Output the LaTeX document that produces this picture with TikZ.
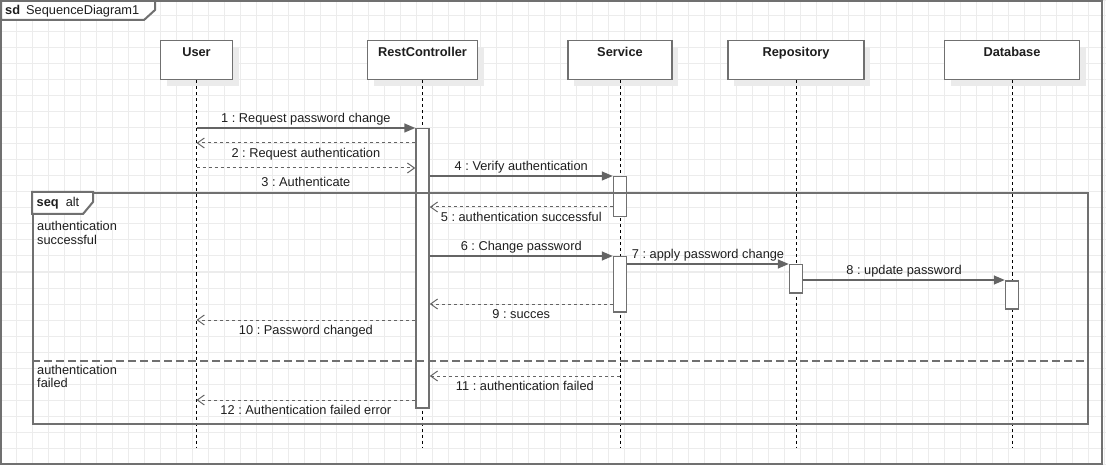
\documentclass[tikz,border=0pt]{standalone}
\usepackage{fontspec}
\setmainfont{Liberation Sans}
\usetikzlibrary{arrows.meta,positioning,shadows}
\frenchspacing

\definecolor{gridgray}{RGB}{236,236,236}
\definecolor{framegray}{RGB}{112,112,112}
\definecolor{msggray}{RGB}{100,100,100}
\definecolor{textgray}{RGB}{30,30,30}

\begin{document}
\begin{tikzpicture}[x=1pt,y=-1pt,
	font=\fontsize{12.8}{13.4}\selectfont, text=textgray,
	gridline/.style={draw=gridgray,line width=1pt},
	sdframe/.style={draw=framegray,line width=2pt},
	head/.style={draw=framegray,line width=1.5pt,fill=white,anchor=north,
		minimum height=39pt,text height=9.5pt,text depth=16pt,font=\fontsize{12.8}{13.4}\selectfont\bfseries,
		drop shadow={shadow xshift=6pt,shadow yshift=-6pt,fill=black!8,opacity=1}},
	lifeline/.style={draw=black,line width=1pt,dash pattern=on 3pt off 3pt},
	actbar/.style={draw=framegray,line width=1.5pt,fill=white,anchor=north,minimum width=13pt,inner sep=0pt},
	call/.style={draw=msggray,line width=1.5pt,-{Triangle[length=11pt,width=9pt]}},
	reply/.style={draw=msggray,line width=1pt,dash pattern=on 3pt off 3pt,-{Straight Barb[length=7pt,width=10pt]}},
	msg/.style={midway,inner sep=1pt,text height=9.5pt,text depth=2.7pt},
	guard/.style={anchor=north west,align=left,inner sep=0pt}]

	\useasboundingbox (0,0) rectangle (1106,465);
	\draw[gridline,step=16pt] (0,0) grid (1106,465);

	% sd frame
	\draw[sdframe] (1,1) rectangle (1102,464);
	\draw[sdframe,fill=white] (1,1) -- (155,1) -- (155,10) -- (144,20) -- (1,20) -- cycle;
	\node[anchor=base west,inner sep=0pt] (sdname) at (5,15) {\textbf{sd}\hspace{6pt}SequenceDiagram1};

	% lifelines
	\node[head,minimum width=72pt] (user) at (196.5,40) {User};
	\node[head,minimum width=110pt] (rest) at (422.5,40) {RestController};
	\node[head,minimum width=104pt] (serv) at (620,40) {Service};
	\node[head,minimum width=136pt] (repo) at (796,40) {Repository};
	\node[head,minimum width=135pt] (db) at (1012,40) {Database};

	\coordinate (bottom) at (0,447);
	\foreach \who in {user,rest,serv,repo,db}
		\draw[lifeline] (\who) -- (\who |- bottom);

	% activations
	\node[actbar,minimum height=279pt] (restAct) at (422.5,128) {};
	\node[actbar,minimum height=40pt] (servActA) at (620,176) {};
	\node[actbar,minimum height=55pt] (servActB) at (620,256) {};
	\node[actbar,minimum height=28pt] (repoAct) at (796,264) {};
	\node[actbar,minimum height=28pt] (dbAct) at (1012,280) {};

	% alt fragment
	\node[sdframe,anchor=north west,minimum width=1055pt,minimum height=231pt,inner sep=0pt] (alt) at (32,192) {};
	\draw[sdframe,fill=white] (alt.north west) -- ++(61,0) -- ++(0,10) -- ++(-10,12) -- ++(-51,0) -- cycle;
	\node[anchor=base west,inner sep=0pt] (altname) at (36.5,207) {\textbf{seq}\hspace{7pt}alt};
	\draw[sdframe,dash pattern=on 8pt off 4pt] (alt.west |- 0,361) -- (alt.east |- 0,361);
	\node[guard] (okguard) at (37,221.5) {authentication\\successful};
	\node[guard] (failguard) at (37,365) {authentication\\failed};

	% messages
	\coordinate (m2) at (0,143);
	\coordinate (m3) at (0,168);
	\coordinate (m5) at (0,207);
	\coordinate (m9) at (0,304);
	\coordinate (m10) at (0,320);
	\coordinate (m11) at (0,376);
	\coordinate (m12) at (0,400);

	\draw[call] (user |- restAct.north) -- (restAct.north west) node[msg,above=1pt] {1 : Request password change};
	\draw[reply] (restAct.west |- m2) -- (user |- m2) node[msg,below=3.5pt] {2 : Request authentication};
	\draw[reply] (user |- m3) -- (restAct.west |- m3) node[msg,below=7.5pt] {3 : Authenticate};
	\draw[call] (restAct.east |- servActA.north) -- (servActA.north west) node[msg,above=1pt] {4 : Verify authentication};
	\draw[reply] (servActA.west |- m5) -- (restAct.east |- m5) node[msg,below=3.5pt] {5 : authentication successful};
	\draw[call] (restAct.east |- servActB.north) -- (servActB.north west) node[msg,above=1pt] {6 : Change password};
	\draw[call] (servActB.east |- repoAct.north) -- (repoAct.north west) node[msg,above=1pt] {7 : apply password change};
	\draw[call] (repoAct.east |- dbAct.north) -- (dbAct.north west) node[msg,above=1pt] {8 : update password};
	\draw[reply] (servActB.west |- m9) -- (restAct.east |- m9) node[msg,below=3.5pt] {9 : succes};
	\draw[reply] (restAct.west |- m10) -- (user |- m10) node[msg,below=3.5pt] {10 : Password changed};
	\draw[reply] (serv |- m11) -- (restAct.east |- m11) node[msg,below=3.5pt] {11 : authentication failed};
	\draw[reply] (restAct.west |- m12) -- (user |- m12) node[msg,below=3.5pt] {12 : Authentication failed error};
\end{tikzpicture}
\end{document}
